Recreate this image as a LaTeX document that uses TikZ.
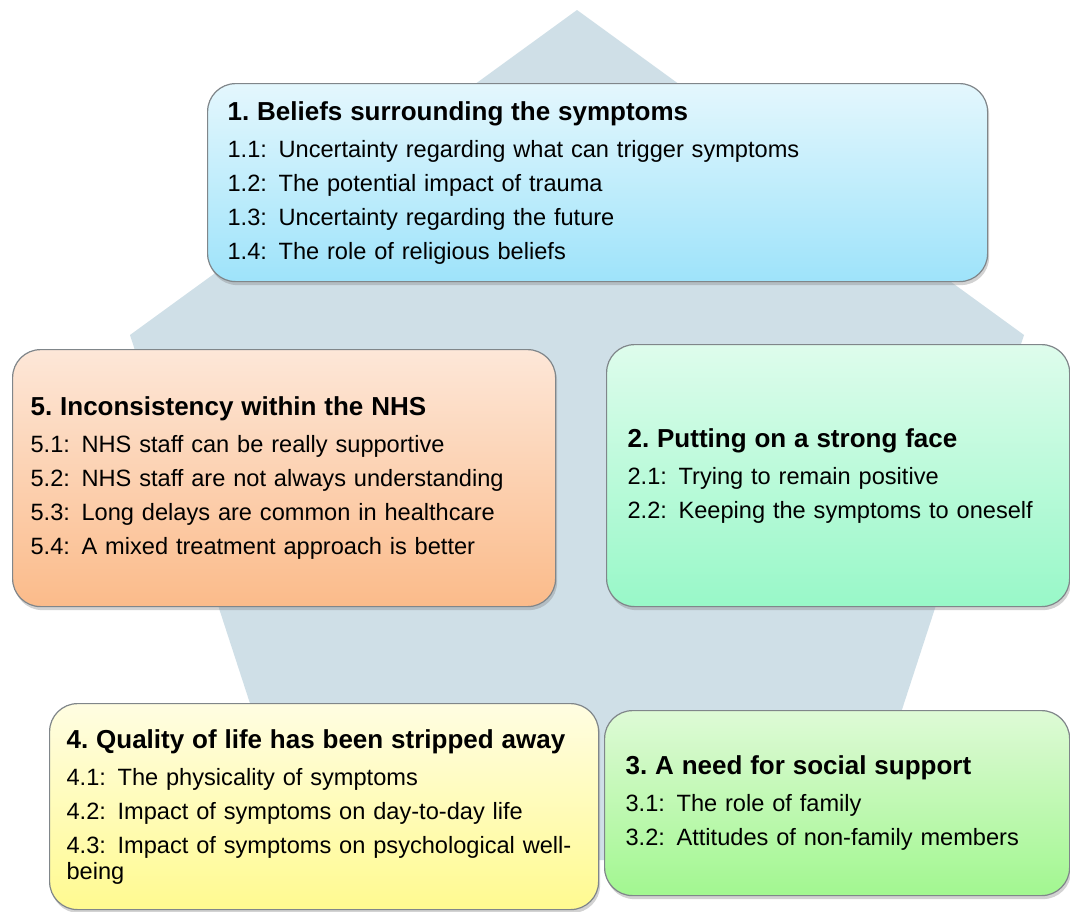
\documentclass[tikz,border=0pt]{standalone}
\usepackage{fontspec}
\setmainfont{Liberation Sans}
\usetikzlibrary{shadows}
\frenchspacing
\definecolor{penta}{RGB}{207,223,231}
\definecolor{boxline}{RGB}{128,134,138}
\definecolor{bAtop}{RGB}{228,247,253}
\definecolor{bAbot}{RGB}{158,227,250}
\definecolor{bBtop}{RGB}{222,252,236}
\definecolor{bBbot}{RGB}{152,248,200}
\definecolor{bCtop}{RGB}{222,250,214}
\definecolor{bCbot}{RGB}{162,247,144}
\definecolor{bDtop}{RGB}{255,253,226}
\definecolor{bDbot}{RGB}{255,250,144}
\definecolor{bEtop}{RGB}{253,231,216}
\definecolor{bEbot}{RGB}{251,187,138}
\newcommand\ttl[1]{\mbox{\fontsize{26}{34}\selectfont\bfseries #1}}
\newcommand\itm[2]{\makebox[51pt][l]{#1}#2}
\begin{document}
\begin{tikzpicture}[x=1pt,y=-1pt,
  theme/.style={draw=boxline, line width=1.2pt, rounded corners=28pt,
    anchor=north west, align=left, inner ysep=0pt,
    font=\fontsize{23.6}{34}\selectfont,
    drop shadow={shadow xshift=1.5pt, shadow yshift=-3.5pt, opacity=0.35}},
  bg/.style={fill=penta}]
\useasboundingbox (0,0) rectangle (1070,911);
\fill[white] (0,0) rectangle (1070,911);
% background pentagon
\coordinate (p1) at (577,10);
\coordinate (p2) at (1024,335);
\coordinate (p3) at (853,860);
\coordinate (p4) at (301,860);
\coordinate (p5) at (130,335);
\fill[bg] (p1) -- (p2) -- (p3) -- (p4) -- (p5) -- cycle;
% theme boxes
\node[theme, top color=bAtop, bottom color=bAbot, text width=740pt, inner xsep=20pt, minimum height=198pt] (b1) at (207,83)
 {\ttl{1. Beliefs surrounding the symptoms}\\[3pt]
  \itm{1.1:}{Uncertainty regarding what can trigger symptoms}\\
  \itm{1.2:}{The potential impact of trauma}\\
  \itm{1.3:}{Uncertainty regarding the future}\\
  \itm{1.4:}{The role of religious beliefs}};
\node[theme, top color=bEtop, bottom color=bEbot, text width=507pt, inner xsep=18pt, minimum height=257pt] (b5) at (12,349)
 {\ttl{5. Inconsistency within the NHS}\\[3pt]
  \itm{5.1:}{NHS staff can be really supportive}\\
  \itm{5.2:}{NHS staff are not always understanding}\\
  \itm{5.3:}{Long delays are common in healthcare}\\
  \itm{5.4:}{A mixed treatment approach is better}};
\node[theme, top color=bBtop, bottom color=bBbot, text width=421pt, inner xsep=21pt, minimum height=262pt] (b2) at (606,344)
 {\ttl{2. Putting on a strong face}\\[3pt]
  \itm{2.1:}{Trying to remain positive}\\
  \itm{2.2:}{Keeping the symptoms to oneself}};
\node[theme, top color=bDtop, bottom color=bDbot, text width=515pt, inner xsep=17pt, minimum height=206pt] (b4) at (49,703)
 {\ttl{4. Quality of life has been stripped away}\\[3pt]
  \itm{4.1:}{The physicality of symptoms}\\
  \itm{4.2:}{Impact of symptoms on day-to-day life}\\
  \itm{4.3:}{Impact of symptoms on psychological well-}\\[-8pt]
  being};
\node[theme, top color=bCtop, bottom color=bCbot, text width=423pt, inner xsep=21pt, minimum height=185pt] (b3) at (604,710)
 {\ttl{3. A need for social support}\\[3pt]
  \itm{3.1:}{The role of family}\\
  \itm{3.2:}{Attitudes of non-family members}};
\end{tikzpicture}
\end{document}
